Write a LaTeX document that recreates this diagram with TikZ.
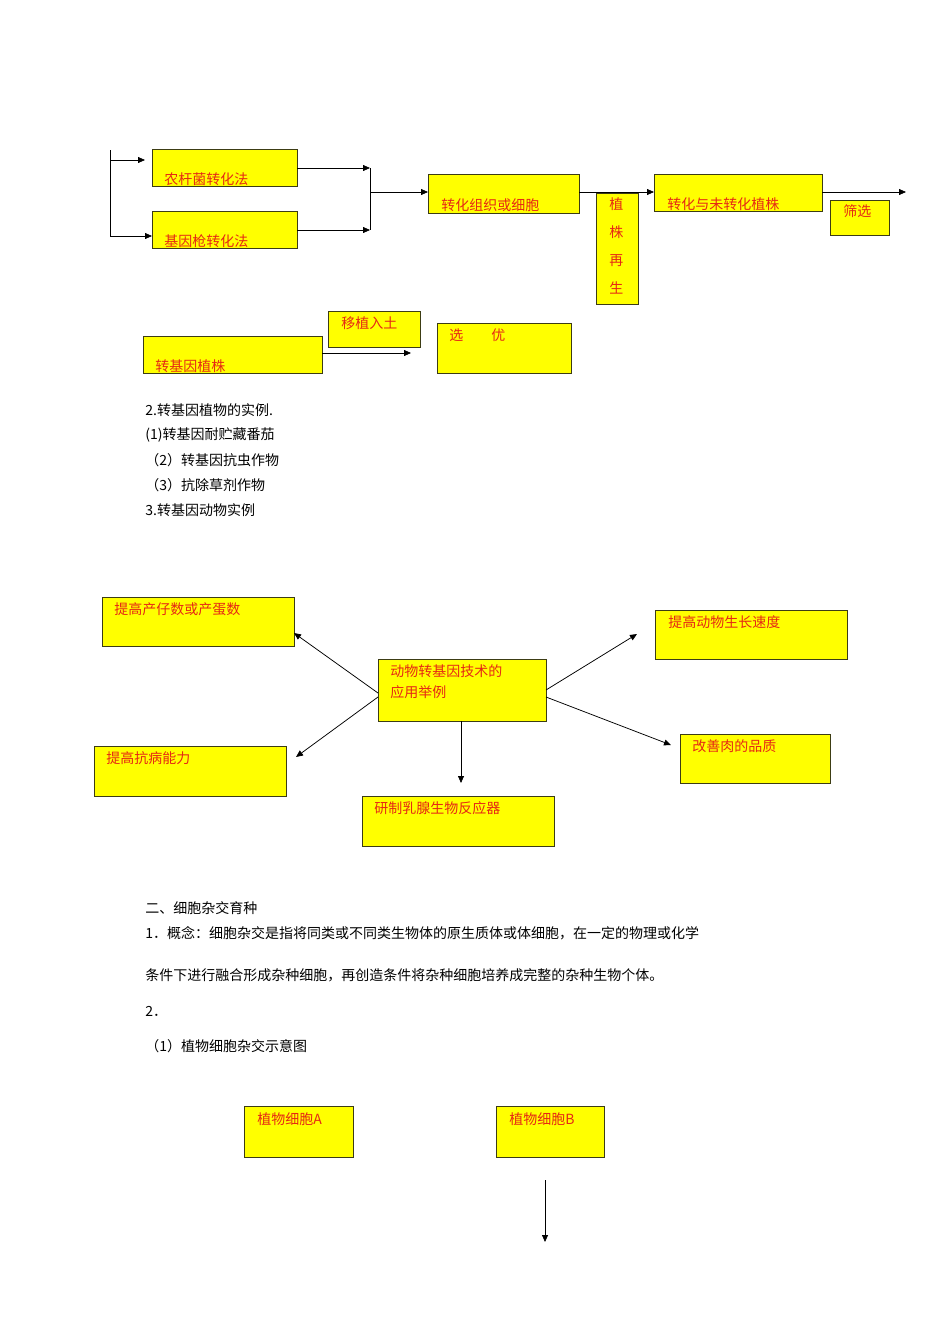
\documentclass[tikz,border=0pt]{standalone}
\usepackage{fontspec}
\setmainfont{Liberation Serif}
\newfontfamily\cjk{Noto Sans CJK SC}
\usetikzlibrary{arrows.meta,positioning}
\tikzset{every picture/.style={line width=0.75pt}}
\tikzset{
  ybox/.style={draw={rgb,255:red,60;green,60;blue,20},fill={rgb,255:red,255;green,255;blue,0},line width=1pt},
  rtext/.style={anchor=south west,inner sep=0pt,text={rgb,255:red,230;green,40;blue,20},font=\cjk\fontsize{14}{17}\selectfont},
  ttext/.style={anchor=north west,inner sep=0pt,text={rgb,255:red,230;green,40;blue,20},font=\cjk\fontsize{14}{17}\selectfont},
  btext/.style={anchor=west,inner sep=0pt,font=\cjk\fontsize{14}{17}\selectfont},
  arr/.style={-{Triangle[length=7pt,width=6pt]}},
}
\begin{document}
\begin{tikzpicture}[x=1pt,y=1pt,yscale=-1,xscale=1]
\useasboundingbox (0,0) rectangle (950,1344);

% first flow
\draw [ybox] (152,149) rectangle (297,186);
\node (nong) [rtext] at (164,186) {农杆菌转化法};
\draw [ybox] (152,211) rectangle (297,248);
\node (jiyin) [rtext] at (164,248) {基因枪转化法};
\draw [ybox] (428,174) rectangle (579,213);
\node (zuzhi) [rtext] at (441,212) {转化组织或细胞};
\draw [ybox] (596,193) rectangle (638,304);
\node (zaisheng) [ttext,align=center,font=\cjk\fontsize{14}{28}\selectfont] at (609,197) {植\\株\\再\\生};
\draw [ybox] (654,174) rectangle (822,211);
\node (zhuzhu) [rtext] at (667,211) {转化与未转化植株};
\draw [ybox] (830,200) rectangle (889,235);
\node (shai) [ttext] at (843,204) {筛选};
\draw [ybox] (328,311) rectangle (420,347);
\node (yizhi) [ttext] at (341,316) {移植入土};
\draw [ybox] (143,336) rectangle (322,373);
\node (zhiwu) [rtext] at (155,373) {转基因植株};
\draw [ybox] (437,323) rectangle (571,373);
\node (xuanyou) [ttext] at (449,328) {选\hspace{2em}优};

\coordinate (top) at (110,150);
\coordinate (bot) at (110,236);
\draw (top) -- (bot);
\draw [arr] (110,160) -- (145,160);
\draw [arr] (bot) -- (152,236);
\coordinate (jn) at (370,168);
\coordinate (js) at (370,230);
\draw [arr] (297,168) -- (jn);
\draw [arr] (297,230) -- (js);
\draw (jn) -- (js);
\draw [arr] (370,192) -- (428,192);
\draw [arr] (579,192) -- (654,192);
\draw [arr] (822,192) -- (906,192);
\draw [arr] (322,353) -- (411,353);

% text lines
\node [btext] at (145,410) {2.转基因植物的实例.};
\node [btext] at (145,435) {(1)转基因耐贮藏番茄};
\node [btext] at (145,460) {（2）转基因抗虫作物};
\node [btext] at (145,485) {（3）抗除草剂作物};
\node [btext] at (145,510) {3.转基因动物实例};

% second diagram
\draw [ybox] (378,659) rectangle (546,721);
\node (center) [ttext,align=left] at (390,664) {动物转基因技术的\\[4pt]应用举例};
\draw [ybox] (102,597) rectangle (294,646);
\node (chanzai) [ttext] at (114,602) {提高产仔数或产蛋数};
\draw [ybox] (655,610) rectangle (847,659);
\node (sudu) [ttext] at (668,615) {提高动物生长速度};
\draw [ybox] (94,746) rectangle (286,796);
\node (kangbing) [ttext] at (106,751) {提高抗病能力};
\draw [ybox] (680,734) rectangle (830,783);
\node (rou) [ttext] at (692,739) {改善肉的品质};
\draw [ybox] (362,796) rectangle (554,846);
\node (rux) [ttext] at (374,801) {研制乳腺生物反应器};

\draw [arr] (378,693) -- (294,633);
\draw [arr] (378,697) -- (296,757);
\draw [arr] (546,690) -- (637,634);
\draw [arr] (546,697) -- (671,745);
\draw [arr] (461,721) -- (461,783);

% third part
\node [btext] at (145,908) {二、细胞杂交育种};
\node [btext] at (145,933) {1．概念：细胞杂交是指将同类或不同类生物体的原生质体或体细胞，在一定的物理或化学};
\node [btext] at (145,975) {条件下进行融合形成杂种细胞，再创造条件将杂种细胞培养成完整的杂种生物个体。};
\node [btext] at (145,1011) {2．};
\node [btext] at (145,1046) {（1）植物细胞杂交示意图};

\draw [ybox] (244,1106) rectangle (353,1157);
\node (cellA) [ttext] at (257,1112) {植物细胞A};
\draw [ybox] (496,1106) rectangle (604,1157);
\node (cellB) [ttext] at (509,1112) {植物细胞B};
\draw [arr] (545,1180) -- (545,1242);
\end{tikzpicture}
\end{document}
